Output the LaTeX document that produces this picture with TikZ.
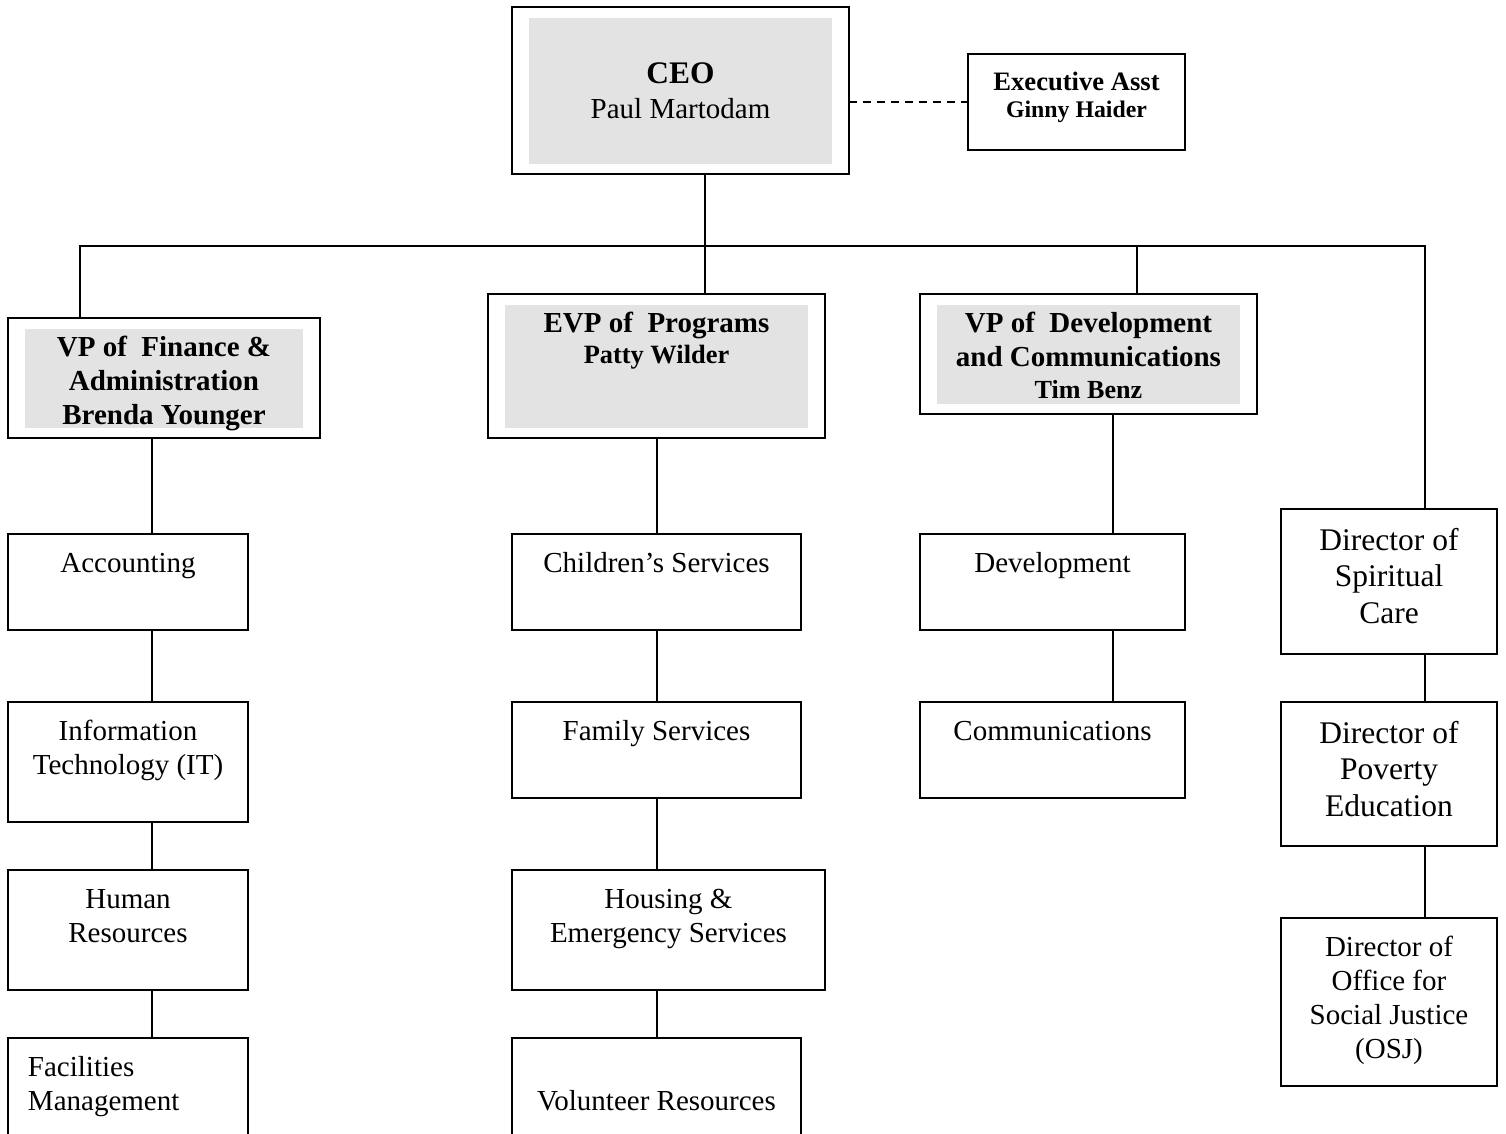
\documentclass[tikz,border=0pt]{standalone}
\usepackage{fontspec}
\setmainfont{Liberation Serif}
\usetikzlibrary{positioning}

% box text: [top pad]{width}{height}{lines}
\newcommand{\orgtext}[4][15pt]{\parbox[c][#3][t]{#2}{\centering\vspace*{#1}\strut #4\par}}

\begin{document}
\begin{tikzpicture}[x=1pt, y=-1pt,
  font=\fontsize{29}{34}\selectfont,
  unit/.style={draw, line width=1.9pt, inner sep=0pt, outer sep=0pt, anchor=north west},
  shaded/.style={path picture={\fill[black!11]
      ([xshift=17pt,yshift=-11pt]path picture bounding box.north west) rectangle
      ([xshift=-17pt,yshift=10pt]path picture bounding box.south east);}},
  head/.style={unit, shaded, font=\bfseries\fontsize{29}{34}\selectfont},
  director/.style={unit, font=\fontsize{31.5}{36.5}\selectfont},
  link/.style={line width=1.9pt},
  helper/.style={link, dash pattern=on 8pt off 6pt},
]
\useasboundingbox (0,0) rectangle (1506,1133);
\clip (0,0) rectangle (1506,1133);

\node[unit, shaded, font=\fontsize{29}{35}\selectfont] (ceo) at (512,7)
  {\orgtext[52pt]{337pt}{167pt}{{\bfseries\fontsize{31.4}{35}\selectfont CEO}\\Paul Martodam}};
\node[unit, font=\bfseries\fontsize{26.6}{27}\selectfont] (asst) at (968,54)
  {\orgtext[18pt]{217pt}{96pt}{Executive Asst\\{\fontsize{23.8}{27}\selectfont Ginny Haider}}};

\node[head] (fin) at (8,318) {\orgtext[15pt]{312pt}{120pt}{VP of~ Finance \&\\Administration\\Brenda Younger}};
\node[head] (evp) at (488,294) {\orgtext[15pt]{337pt}{144pt}{EVP of~ Programs\\[-3pt]{\fontsize{26.4}{34}\selectfont Patty Wilder}}};
\node[head] (dev) at (920,294) {\orgtext[15pt]{337pt}{120pt}{VP of~ Development\\and Communications\\[-2pt]{\fontsize{26.1}{34}\selectfont Tim Benz}}};

% finance column
\node[unit] (acct) at (8,534) {\orgtext{240pt}{96pt}{Accounting}};
\node[unit, below=72pt of acct] (it) {\orgtext{240pt}{120pt}{Information\\Technology (IT)}};
\node[unit, below=48pt of it] (hr) {\orgtext{240pt}{120pt}{Human\\Resources}};
\node[unit, below=48pt of hr] (fac) {\orgtext{240pt}{120pt}{\raggedright\leftskip=20pt Facilities\\Management}};

% programs column
\node[unit] (kids) at (512,534) {\orgtext{289pt}{96pt}{Children’s Services}};
\node[unit, below=72pt of kids] (fam) {\orgtext{289pt}{96pt}{Family Services}};
\node[unit, below=72pt of fam.south west, anchor=north west] (house) {\orgtext{313pt}{120pt}{Housing \&\\Emergency Services}};
\node[unit, below=48pt of house.south west, anchor=north west] (vol) {\orgtext{289pt}{120pt}{\mbox{}\\Volunteer Resources}};

% development column
\node[unit] (devt) at (920,534) {\orgtext{265pt}{96pt}{Development}};
\node[unit, below=72pt of devt] (comm) {\orgtext{265pt}{96pt}{Communications}};

% directors
\node[director] (spirit) at (1281,509) {\orgtext[15.5pt]{216pt}{145pt}{Director of\\Spiritual\\Care}};
\node[director, below=48pt of spirit] (pov) {\orgtext[15.5pt]{216pt}{144pt}{Director of\\Poverty\\Education}};
\node[unit, below=72pt of pov] (osj) {\orgtext{216pt}{168pt}{Director of\\Office for\\Social Justice\\(OSJ)}};

\coordinate (hub) at (705,246);
\coordinate (busL) at (80,246);
\coordinate (busR) at (1425,246);
\coordinate (busD) at (1137,246);
\coordinate (finx) at (152,0);
\coordinate (progx) at (657,0);
\coordinate (devx) at (1113,0);

\draw[helper] (ceo.east |- asst.west) -- (asst.west);
\draw[link] (ceo.south -| hub) -- (hub) -- (evp.north -| hub);
\draw[link] (fin.north -| busL) -- (busL) -- (busR) -- (spirit.north -| busR);
\draw[link] (busD) -- (dev.north -| busD);

\foreach \a/\b in {fin/acct, acct/it, it/hr, hr/fac}
  \draw[link] (\a.south -| finx) -- (\b.north -| finx);
\foreach \a/\b in {evp/kids, kids/fam, fam/house, house/vol}
  \draw[link] (\a.south -| progx) -- (\b.north -| progx);
\foreach \a/\b in {dev/devt, devt/comm}
  \draw[link] (\a.south -| devx) -- (\b.north -| devx);
\foreach \a/\b in {spirit/pov, pov/osj}
  \draw[link] (\a.south -| busR) -- (\b.north -| busR);
\end{tikzpicture}
\end{document}
